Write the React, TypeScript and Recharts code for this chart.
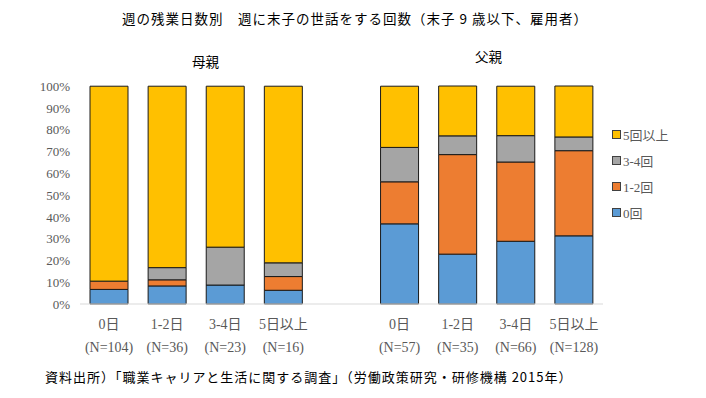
import { BarChart, Bar, XAxis, YAxis, Legend } from "recharts";

// 9 slots: 4 for 母親, one empty gap, 4 for 父親
const categories = ["0日", "1-2日", "3-4日", "5日以上", "", "0日", "1-2日", "3-4日", "5日以上"];
const sampleSizes = ["(N=104)", "(N=36)", "(N=23)", "(N=16)", "", "(N=57)", "(N=35)", "(N=66)", "(N=128)"];

// percentages, bottom to top
const zeroTimes = [6.7, 8.3, 8.7, 6.3, null, 36.8, 22.9, 28.8, 31.3];
const oneTwoTimes = [3.8, 2.8, 0, 6.3, null, 19.3, 45.7, 36.4, 39.1];
const threeFourTimes = [0, 5.6, 17.4, 6.3, null, 15.8, 8.6, 12.1, 6.3];
const fivePlusTimes = [89.5, 83.3, 73.9, 81.1, null, 28.1, 22.9, 22.7, 23.4];

const yTicks = [0, 10, 20, 30, 40, 50, 60, 70, 80, 90, 100];

const COLORS = {
  zero: "#5B9BD5",
  oneTwo: "#ED7D31",
  threeFour: "#A5A5A5",
  fivePlus: "#FFC000",
  outline: "#1a1a1a",
  axis: "#D9D9D9",
  text: "#595959",
};

const SERIF = "'Liberation Serif', 'Noto Sans CJK JP', serif";
const SANS = "'Noto Sans CJK JP', sans-serif";

const data = categories.map((c, i) => ({
  name: c,
  n: sampleSizes[i],
  zero: zeroTimes[i],
  oneTwo: oneTwoTimes[i],
  threeFour: threeFourTimes[i],
  fivePlus: fivePlusTimes[i],
}));

function XTick({ x, y, payload, index }: any) {
  const n = sampleSizes[index] ?? "";
  return (
    <g>
      <text x={x} y={y + 17} textAnchor="middle" fontSize={14} fill={COLORS.text} fontFamily={SERIF}>
        {payload.value}
      </text>
      <text x={x} y={y + 40} textAnchor="middle" fontSize={14} fill={COLORS.text} fontFamily={SERIF}>
        {n}
      </text>
    </g>
  );
}

function LegendBox({ payload }: any) {
  const items = [...(payload ?? [])].reverse();
  return (
    <div style={{ fontFamily: SERIF, fontSize: 13, color: COLORS.text }}>
      {items.map((item: any) => (
        <div key={item.value} style={{ display: "flex", alignItems: "center", height: 26 }}>
          <span
            style={{
              display: "inline-block",
              width: 7,
              height: 7,
              background: item.color,
              border: "1px solid #404040",
              marginRight: 2,
            }}
          />
          <span>{item.value}</span>
        </div>
      ))}
    </div>
  );
}

export default function App() {
  return (
    <div style={{ position: "absolute", left: 0, top: 0, width: 706, height: 398, background: "#fff" }}>
      <div
        style={{
          position: "absolute",
          left: 0,
          width: 710,
          top: 8,
          textAlign: "center",
          fontFamily: SANS,
          fontSize: 13.5,
          letterSpacing: 1,
          color: "#000",
        }}
      >
        週の残業日数別　週に末子の世話をする回数（末子 9 歳以下、雇用者）
      </div>
      <div style={{ position: "absolute", left: 192, top: 51, fontFamily: SANS, fontSize: 13.5, color: "#000" }}>
        母親
      </div>
      <div style={{ position: "absolute", left: 475, top: 46, fontFamily: SANS, fontSize: 13.5, color: "#000" }}>
        父親
      </div>
      <BarChart
        width={706}
        height={398}
        data={data}
        margin={{ top: 86, right: 13, bottom: 34, left: 30 }}
        barSize={38}
      >
        <XAxis
          dataKey="name"
          axisLine={{ stroke: COLORS.axis }}
          tickLine={false}
          interval={0}
          tick={<XTick />}
          height={60}
        />
        <YAxis
          domain={[0, 100]}
          ticks={yTicks}
          interval={0}
          tickFormatter={(v) => `${v}%`}
          axisLine={false}
          tickLine={false}
          width={50}
          tickMargin={4}
          tick={{ fill: COLORS.text, fontSize: 13, fontFamily: SERIF }}
        />
        <Legend
          layout="vertical"
          verticalAlign="top"
          align="right"
          content={<LegendBox />}
          wrapperStyle={{ position: "absolute", left: 612, top: 121, width: 90 }}
        />
        <Bar dataKey="zero" name="0回" stackId="a" fill={COLORS.zero} stroke={COLORS.outline} strokeWidth={1} isAnimationActive={false} />
        <Bar dataKey="oneTwo" name="1-2回" stackId="a" fill={COLORS.oneTwo} stroke={COLORS.outline} strokeWidth={1} isAnimationActive={false} />
        <Bar dataKey="threeFour" name="3-4回" stackId="a" fill={COLORS.threeFour} stroke={COLORS.outline} strokeWidth={1} isAnimationActive={false} />
        <Bar dataKey="fivePlus" name="5回以上" stackId="a" fill={COLORS.fivePlus} stroke={COLORS.outline} strokeWidth={1} isAnimationActive={false} />
      </BarChart>
      <div style={{ position: "absolute", left: 45, top: 367, fontFamily: SANS, fontSize: 13, letterSpacing: 1, color: "#000" }}>
        資料出所）「職業キャリアと生活に関する調査」（労働政策研究・研修機構 2015年）
      </div>
    </div>
  );
}
